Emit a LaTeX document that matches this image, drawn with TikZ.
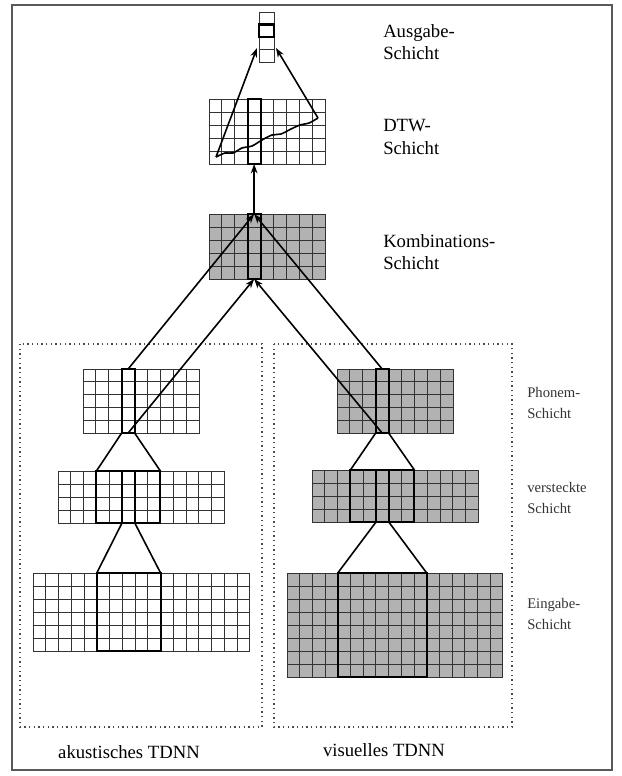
\documentclass[tikz,border=0pt]{standalone}
\usepackage{fontspec}
\setmainfont{Liberation Serif}
\usetikzlibrary{arrows.meta}
\newcommand\mygrid[8]{% name,x0,y0,cols,rows,cw,ch,fill
  \node[gridbox, fill=#8, minimum width={#4*#6*0.75pt}, minimum height={#5*#7*0.75pt}] (#1) at (#2,#3) {};
  \pgfmathtruncatemacro\gc{#4-1}
  \pgfmathtruncatemacro\gr{#5-1}
  \ifnum\gc>0
    \foreach \i in {1,...,\gc} {\draw[gridline] ({#2+\i*#6},#3) -- ({#2+\i*#6},{#3+#5*#7});}
  \fi
  \ifnum\gr>0
    \foreach \j in {1,...,\gr} {\draw[gridline] (#2,{#3+\j*#7}) -- ({#2+#4*#6},{#3+\j*#7});}
  \fi
}
\newcommand\myhl[5]{% name,x0,y0,w,h
  \node[hl, minimum width={#4*0.75pt}, minimum height={#5*0.75pt}] (#1) at (#2,#3) {};
}
\begin{document}
\begin{tikzpicture}[x=0.75pt,y=-0.75pt,
  gridbox/.style={draw=black!80, line width=0.75pt, inner sep=0pt, outer sep=0pt, anchor=north west},
  gridline/.style={draw=black!80, line width=0.75pt},
  hl/.style={draw=black, line width=1.6pt, inner sep=0pt, outer sep=0pt, anchor=north west},
  conn/.style={draw=black, line width=1.2pt},
  arr/.style={conn, -{Stealth[length=7pt,width=5pt]}},
  grp/.style={draw=black!70, line width=1.1pt, dash pattern=on 1.1pt off 2.4pt},
  toplab/.style={anchor=north west, align=left, inner sep=0pt, font=\fontsize{14}{17}\selectfont},
  sidelab/.style={anchor=north west, align=left, inner sep=0pt, text=black!80, font=\fontsize{11}{16}\selectfont},
  botlab/.style={anchor=center, inner sep=0pt, font=\fontsize{14}{17}\selectfont}
]
\useasboundingbox (0,0) rectangle (622,776);
\fill[white] (0,0) rectangle (622,776);
% outer frame
\draw[line width=1.5pt, draw=black!65] (12,5) rectangle (612,770);
% group boxes
\draw[grp] (20,344) rectangle (262,727);
\draw[grp] (274,344) rectangle (512,727);

% grids
\mygrid{out}{259}{12}{1}{4}{15}{12.5}{white}
\mygrid{dtw}{209}{99}{9}{5}{12.9}{13}{white}
\mygrid{komb}{209}{214}{9}{5}{12.9}{13}{black!30}
\mygrid{aphon}{83}{369}{9}{5}{12.9}{12.8}{white}
\mygrid{vphon}{337}{369}{9}{5}{12.9}{12.8}{black!30}
\mygrid{ahid}{58}{471}{13}{4}{12.8}{13}{white}
\mygrid{vhid}{312}{470}{13}{4}{12.8}{13}{black!30}
\mygrid{ainp}{33}{573}{17}{6}{12.76}{13}{white}
\mygrid{vinp}{287}{573}{17}{8}{12.7}{13}{black!30}

% named points
\coordinate (dtwL) at (216,157);
\coordinate (dtwR) at (318,118);
\coordinate (outL) at (257,48);
\coordinate (outR) at (276,48);

% highlights
\myhl{outhl}{259}{24.5}{15}{12.5}
\myhl{dtwhl}{247.7}{99}{12.9}{65}
\myhl{kombhl}{247.7}{214}{12.9}{65}
\myhl{aphonhl}{121.7}{369}{12.9}{64}
\myhl{vphonhl}{375.7}{369}{12.9}{64}
\myhl{ahidO}{96.4}{471}{64}{52}
\myhl{ahidI}{122}{471}{12.8}{52}
\myhl{vhidO}{350.4}{470}{64}{52}
\myhl{vhidI}{376}{470}{12.8}{52}
\myhl{ainphl}{96.8}{573}{63.8}{78}
\myhl{vinphl}{337.8}{573}{88.9}{104}

% connectors
\draw[arr] (dtwL) -- (outL);
\draw[arr] (dtwR) -- (outR);
\draw[conn] plot[smooth] coordinates {(216,157) (225,153) (233,153) (242,148) (252,146) (262,140) (272,135) (281,134) (291,129) (300,125) (309,123) (318,118)};
\draw[arr] (kombhl.north) -- (dtwhl.south);
\draw[arr] (aphonhl.south) -- (kombhl.south);
\draw[arr] (vphonhl.south) -- (kombhl.south);
\draw[arr] (aphonhl.north) -- (kombhl.north);
\draw[arr] (vphonhl.north) -- (kombhl.north);
\draw[conn] (aphonhl.south west) -- (ahidO.north west);
\draw[conn] (aphonhl.south east) -- (ahidO.north east);
\draw[conn] (ahidI.south west) -- (ainphl.north west);
\draw[conn] (ahidI.south east) -- (ainphl.north east);
\draw[conn] (vphonhl.south west) -- (vhidO.north west);
\draw[conn] (vphonhl.south east) -- (vhidO.north east);
\draw[conn] (vhidI.south west) -- (vinphl.north west);
\draw[conn] (vhidI.south east) -- (vinphl.north east);

% labels
\node[toplab] (l1) at (383,24) {Ausgabe-\\Schicht};
\node[toplab] (l2) at (383,119) {DTW-\\Schicht};
\node[toplab] (l3) at (383,234) {Kombinations-\\Schicht};
\node[sidelab] (l4) at (527,387) {Phonem-\\Schicht};
\node[sidelab] (l5) at (527,482) {versteckte\\Schicht};
\node[sidelab] (l6) at (527,598) {Eingabe-\\Schicht};
\node[botlab] (b1) at (129,752) {akustisches TDNN};
\node[botlab] (b2) at (384,750) {visuelles TDNN};
\end{tikzpicture}
\end{document}
